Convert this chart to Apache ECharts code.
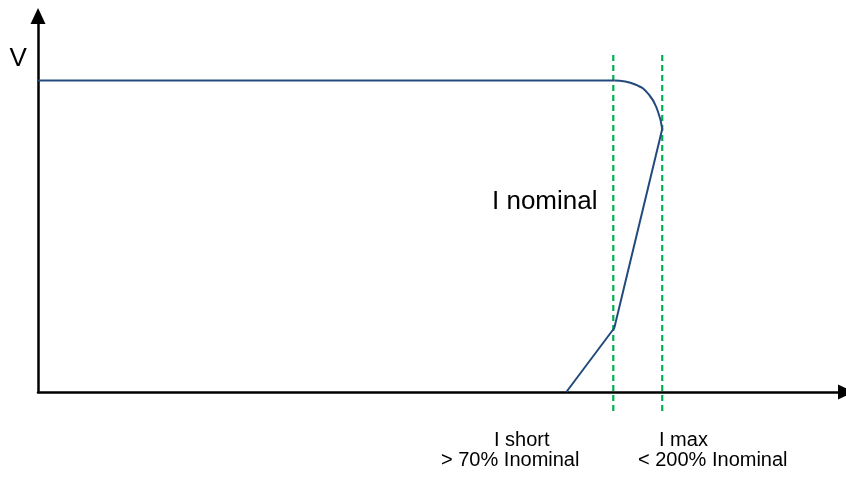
<!DOCTYPE html>
<html>
<head>
<meta charset="utf-8">
<script src="https://cdn.jsdelivr.net/npm/echarts@6/dist/echarts.min.js"></script>
<style>html,body{margin:0;padding:0;background:#fff;}#c{width:846px;height:478px;}</style>
</head>
<body>
<div id="c"></div>
<script>
// Current (x) / voltage (y) characteristic, in chart units
var flatX = [0, 577];
var flatY = [311.5, 311.5];
var arcX = [577, 598, 612, 620.5, 625];
var arcY = [311.5, 307.5, 297, 281, 263];
var dropX = [625, 577, 529];
var dropY = [263, 64, 0];
var iShortX = 576;
var iMaxX = 625;
var dashTop = 337;
var dashBottom = -21;
var labels = {
  v: 'V',
  nominal: 'I nominal',
  shortL1: 'I short',
  shortL2: '> 70% Inominal',
  maxL1: 'I max',
  maxL2: '< 200% Inominal'
};

var chart = echarts.init(document.getElementById('c'));
function pts(xs, ys) { return xs.map(function (x, i) { return [x, ys[i]]; }); }
function vline(x) { return [[x, dashTop], [x, dashBottom]]; }
var font = '"Liberation Sans", Arial, sans-serif';
var curveStyle = { color: '#234a7d', width: 2 };
var dashStyle = { color: '#00b050', width: 2.2, type: [6, 4] };

chart.setOption({
  animation: false,
  backgroundColor: '#fff',
  grid: { left: 38, right: -1, top: 16, bottom: 86 },
  xAxis: {
    type: 'value', min: 0, max: 809,
    axisLine: { show: true, lineStyle: { color: '#000', width: 2.5 }, symbol: ['none', 'triangle'], symbolSize: [15, 16] },
    axisTick: { show: false }, axisLabel: { show: false }, splitLine: { show: false }
  },
  yAxis: {
    type: 'value', min: 0, max: 376,
    axisLine: { show: true, lineStyle: { color: '#000', width: 2.5 }, symbol: ['none', 'triangle'], symbolSize: [15, 16] },
    axisTick: { show: false }, axisLabel: { show: false }, splitLine: { show: false }
  },
  series: [
    { type: 'line', data: vline(iShortX), clip: false, showSymbol: false, silent: true, lineStyle: dashStyle },
    { type: 'line', data: vline(iMaxX), clip: false, showSymbol: false, silent: true, lineStyle: dashStyle },
    { type: 'line', data: pts(flatX, flatY), showSymbol: false, silent: true, lineStyle: curveStyle },
    { type: 'line', data: pts(arcX, arcY), showSymbol: false, smooth: 0.5, silent: true, lineStyle: curveStyle },
    { type: 'line', data: pts(dropX, dropY), showSymbol: false, silent: true, lineStyle: curveStyle }
  ],
  graphic: [
    { type: 'text', left: 9.5, top: 46, style: { text: labels.v, font: '26px ' + font, fill: '#000' } },
    { type: 'text', left: 492, top: 189, style: { text: labels.nominal, font: '26px ' + font, fill: '#000' } },
    { type: 'text', left: 494, top: 430, style: { text: labels.shortL1, font: '20px ' + font, fill: '#000' } },
    { type: 'text', left: 441, top: 450.5, style: { text: labels.shortL2, font: '20px ' + font, fill: '#000' } },
    { type: 'text', left: 659, top: 430, style: { text: labels.maxL1, font: '20px ' + font, fill: '#000' } },
    { type: 'text', left: 638, top: 450.5, style: { text: labels.maxL2, font: '20px ' + font, fill: '#000' } }
  ]
});
</script>
</body>
</html>
